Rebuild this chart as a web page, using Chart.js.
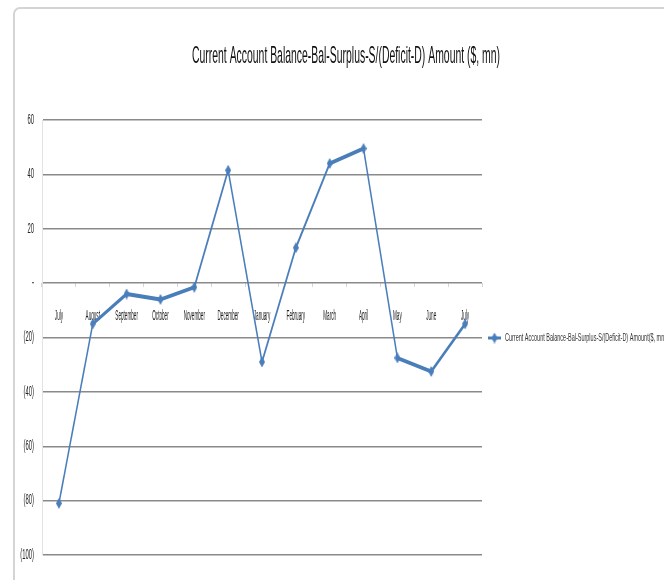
<!DOCTYPE html>
<html>
<head>
<meta charset="utf-8">
<script src="https://cdn.jsdelivr.net/npm/chart.js@4/dist/chart.umd.min.js"></script>
<style>
  html, body { margin: 0; padding: 0; background: #ffffff; }
  #wrap { width: 664px; height: 580px; position: relative; }
</style>
</head>
<body>
<div id="wrap"><canvas id="c" width="664" height="580"></canvas></div>
<script>
const chartTitle = 'Current Account Balance-Bal-Surplus-S/(Deficit-D) Amount ($, mn)';
const seriesName = 'Current Account Balance-Bal-Surplus-S/(Deficit-D) Amount($, mn)';
const months = ['July', 'August', 'September', 'October', 'November', 'December', 'January',
                'February', 'March', 'April', 'May', 'June', 'July'];
const balance = [-81, -15, -4, -6, -1.5, 41.5, -29, 13, 44, 49.5, -27.5, -32.5, -15];
const yTicks = [60, 40, 20, 0, -20, -40, -60, -80, -100];

const FONT = "'Liberation Sans', Arial, sans-serif";
const LINE_COLOR = '#4a7ebb';
const SQUASH = 0.35;     // horizontal compression seen in the reference picture
const BASE_WIDTH = 4;    // line width before compression

function fmtAcct(v) {
  if (v === 0) return '-';
  if (v < 0) return '(' + (-v) + ')';
  return String(v);
}

// narrow diamond marker (a squashed diamond)
function makeMarker(w, h, color) {
  const c = document.createElement('canvas');
  c.width = w; c.height = h;
  const g = c.getContext('2d');
  g.fillStyle = color;
  g.beginPath();
  g.moveTo(w / 2, 0);
  g.lineTo(w, h / 2);
  g.lineTo(w / 2, h);
  g.lineTo(0, h / 2);
  g.closePath();
  g.fill();
  return c;
}
const marker = makeMarker(6, 11, LINE_COLOR);

// width of a segment after horizontal squashing
function squashedWidth(ctx) {
  const dx = ctx.p1.x - ctx.p0.x;
  const dy = ctx.p1.y - ctx.p0.y;
  const L = Math.sqrt(dx * dx + dy * dy) || 1;
  const R = Math.sqrt((dx * dx) / (SQUASH * SQUASH) + dy * dy);
  return Math.max(1.2, SQUASH * BASE_WIDTH * R / L);
}

// draw axis labels horizontally compressed
function squashLabels(scale, factor) {
  if (scale.__squashed) return;
  const orig = scale.drawLabels.bind(scale);
  scale.drawLabels = function (area) {
    const ctx = this.ctx;
    const origFill = ctx.fillText;
    ctx.fillText = function (t, x, y, mw) {
      this.save();
      this.translate(x, y);
      this.scale(factor, 1);
      origFill.call(this, t, 0, 0);
      this.restore();
    };
    try { orig(area); } finally { ctx.fillText = origFill; }
  };
  scale.__squashed = true;
}

const decor = {
  id: 'decor',
  beforeDraw(chart) {
    squashLabels(chart.scales.x, 0.33);
    squashLabels(chart.scales.y, 0.42);
    const ctx = chart.ctx;
    ctx.save();
    ctx.fillStyle = '#ffffff';
    ctx.fillRect(0, 0, chart.width, chart.height);
    ctx.strokeStyle = '#d4d4d4';
    ctx.lineWidth = 2;
    ctx.beginPath();
    ctx.roundRect(14, 8, 720, 640, 6);
    ctx.stroke();
    ctx.restore();
  },
  afterDraw(chart) {
    const ctx = chart.ctx;
    ctx.save();
    ctx.font = '24px ' + FONT;
    ctx.fillStyle = '#111111';
    ctx.textBaseline = 'middle';
    ctx.textAlign = 'center';
    const tw = ctx.measureText(chartTitle).width;
    ctx.translate(346, 56);
    ctx.scale(308 / tw, 1);
    ctx.fillText(chartTitle, 0, 0);
    ctx.restore();

    // legend
    ctx.save();
    const ly = 338;
    ctx.strokeStyle = LINE_COLOR;
    ctx.lineWidth = 3;
    ctx.beginPath();
    ctx.moveTo(488, ly);
    ctx.lineTo(501, ly);
    ctx.stroke();
    ctx.drawImage(marker, 491.5, ly - 5.5);
    ctx.font = '11px ' + FONT;
    ctx.fillStyle = '#333333';
    ctx.textBaseline = 'middle';
    ctx.textAlign = 'left';
    ctx.translate(505, ly);
    ctx.scale(0.5, 1);
    ctx.fillText(seriesName, 0, 0);
    ctx.restore();
  }
};

new Chart(document.getElementById('c'), {
  type: 'line',
  data: {
    labels: months,
    datasets: [{
      label: seriesName,
      data: balance,
      borderColor: LINE_COLOR,
      backgroundColor: LINE_COLOR,
      borderWidth: 2.5,
      segment: { borderWidth: squashedWidth },
      pointStyle: marker,
      pointRadius: 4,
      tension: 0,
      fill: false
    }]
  },
  options: {
    responsive: false,
    animation: false,
    layout: { padding: { left: 0, right: 182, top: 120, bottom: 25 } },
    plugins: {
      legend: { display: false },
      title: { display: false },
      tooltip: { enabled: false }
    },
    scales: {
      x: {
        type: 'category',
        position: { y: 0 },
        offset: true,
        grid: { display: true, drawOnChartArea: false, drawTicks: true, tickLength: 4, color: '#d6d6d6', offset: true },
        border: { display: false },
        ticks: {
          autoSkip: false,
          maxRotation: 0,
          minRotation: 0,
          padding: 21,
          color: '#222222',
          font: { family: FONT, size: 14 }
        }
      },
      y: {
        min: -100,
        max: 60,
        afterFit(scale) { scale.width = 42; },
        afterBuildTicks(scale) { scale.ticks = yTicks.map(v => ({ value: v })); },
        grid: { color: '#8a8a8a', lineWidth: 1.5, drawTicks: false },
        border: { display: true, color: '#e2e2e2', width: 1 },
        ticks: {
          padding: 8,
          color: '#222222',
          font: { family: FONT, size: 14 },
          callback: (v) => fmtAcct(v)
        }
      }
    }
  },
  plugins: [decor]
});
</script>
</body>
</html>
